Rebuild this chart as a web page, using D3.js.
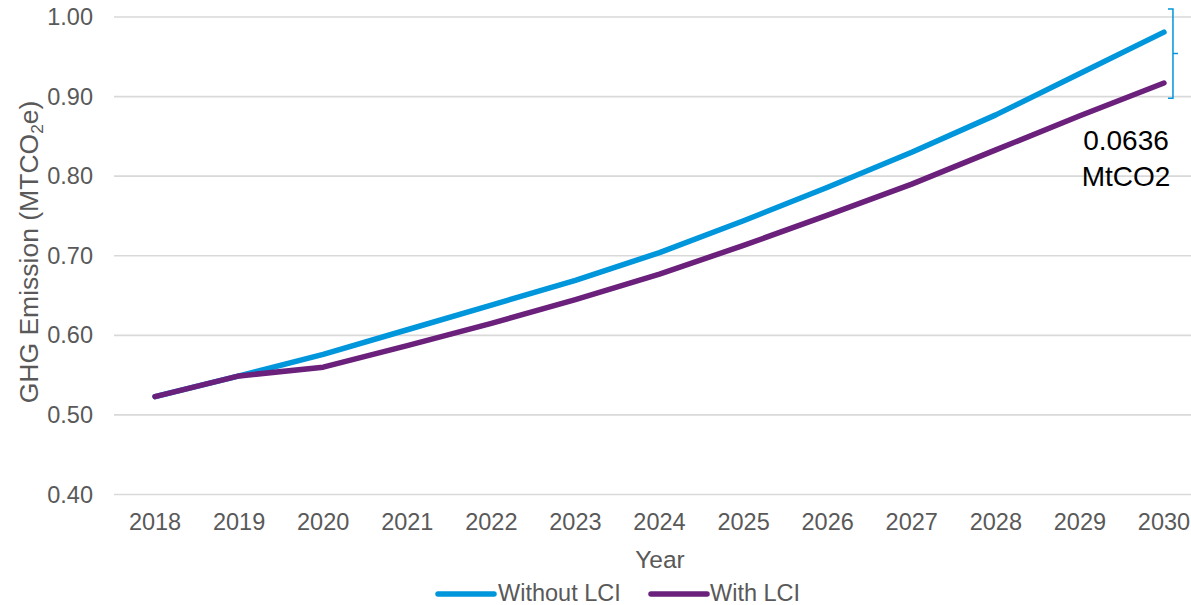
<!DOCTYPE html>
<html>
<head>
<meta charset="utf-8">
<script src="https://cdn.jsdelivr.net/npm/d3@7"></script>
<style>
  html, body { margin: 0; padding: 0; background: #fff; }
  svg { display: block; font-family: Arial, "Liberation Sans", sans-serif; }
</style>
</head>
<body>
<svg id="chart" width="1191" height="605"></svg>
<script>
const years = ["2018","2019","2020","2021","2022","2023","2024","2025","2026","2027","2028","2029","2030"];
const withoutLCI = [0.523, 0.549, 0.576, 0.607, 0.638, 0.669, 0.704, 0.744, 0.786, 0.830, 0.877, 0.929, 0.981];
const withLCI    = [0.523, 0.549, 0.560, 0.587, 0.615, 0.645, 0.677, 0.713, 0.751, 0.790, 0.833, 0.876, 0.917];
const yTicks = [0.40, 0.50, 0.60, 0.70, 0.80, 0.90, 1.00];
const seriesNames = ["Without LCI", "With LCI"];
const annotationLines = ["0.0636", "MtCO2"];

const W = 1191, H = 605;
const colors = ["#0096DB", "#6B207C"];
const textColor = "#595959";
const fs = 23.5;

const svg = d3.select("#chart");
const x = d3.scaleBand().domain(years).range([113, 1206]).paddingInner(0).paddingOuter(0);
const cx = d => x(d) + x.bandwidth() / 2;
const y = d3.scaleLinear().domain([0.4, 1.0]).range([494.5, 17]);

// gridlines
svg.append("g").selectAll("line").data(yTicks).join("line")
  .attr("x1", 114).attr("x2", W)
  .attr("y1", d => y(d)).attr("y2", d => y(d))
  .attr("stroke", "#d9d9d9").attr("stroke-width", 1.6);

// y axis labels
const yAxis = d3.axisLeft(y).tickValues(yTicks).tickFormat(d3.format(".2f")).tickSize(0).tickPadding(0);
const yg = svg.append("g").attr("transform", "translate(93,0)").call(yAxis);
yg.select(".domain").remove();
yg.selectAll("text").attr("font-size", fs).attr("fill", textColor).attr("font-family", "Arial, 'Liberation Sans', sans-serif");

// x axis labels
const xAxis = d3.axisBottom(x).tickSize(0).tickPadding(0);
const xg = svg.append("g").attr("transform", "translate(0,494.5)").call(xAxis);
xg.select(".domain").remove();
xg.selectAll("text").attr("font-size", fs).attr("fill", textColor)
  .attr("font-family", "Arial, 'Liberation Sans', sans-serif")
  .attr("dy", null).attr("y", 35.5);

// axis titles
svg.append("text").attr("x", 660).attr("y", 568).attr("text-anchor", "middle")
  .attr("font-size", fs + 1).attr("fill", textColor).text("Year");

const ytfs = 26.5;
const yt = svg.append("text").attr("transform", "translate(38,252) rotate(-90)")
  .attr("text-anchor", "middle").attr("font-size", ytfs).attr("fill", textColor);
yt.append("tspan").text("GHG Emission (MTCO");
yt.append("tspan").attr("font-size", ytfs * 0.65).attr("dy", 5).text("2");
yt.append("tspan").attr("dy", -5).text("e)");

// lines
const line = d3.line().x((d, i) => cx(years[i])).y(d => y(d));
[withoutLCI, withLCI].forEach((s, i) => {
  svg.append("path").datum(s).attr("d", line)
    .attr("fill", "none").attr("stroke", colors[i]).attr("stroke-width", 5.5)
    .attr("stroke-linecap", "round").attr("stroke-linejoin", "round");
});

// bracket annotation
const lastX = cx(years[years.length - 1]);
const bx = lastX + 9;
const bTop = y(1.01), bBot = y(0.898);
svg.append("path")
  .attr("d", `M${bx - 5},${bTop} H${bx} V${bBot} H${bx - 5} M${bx},${(bTop + bBot) / 2} H${bx + 5}`)
  .attr("fill", "none").attr("stroke", colors[0]).attr("stroke-width", 1.5);

svg.append("g").selectAll("text").data(annotationLines).join("text")
  .attr("x", 1126).attr("y", (d, i) => 150 + i * 36)
  .attr("text-anchor", "middle").attr("font-size", 28).attr("fill", "#000")
  .text(d => d);

// legend
const legend = [
  { name: seriesNames[0], color: colors[0], x1: 438, x2: 494, tx: 498 },
  { name: seriesNames[1], color: colors[1], x1: 651, x2: 707, tx: 710 }
];
const lg = svg.append("g");
legend.forEach(l => {
  lg.append("line").attr("x1", l.x1).attr("x2", l.x2).attr("y1", 594).attr("y2", 594)
    .attr("stroke", l.color).attr("stroke-width", 5.5).attr("stroke-linecap", "round");
  lg.append("text").attr("x", l.tx).attr("y", 601).attr("font-size", fs)
    .attr("fill", textColor).text(l.name);
});
</script>
</body>
</html>
